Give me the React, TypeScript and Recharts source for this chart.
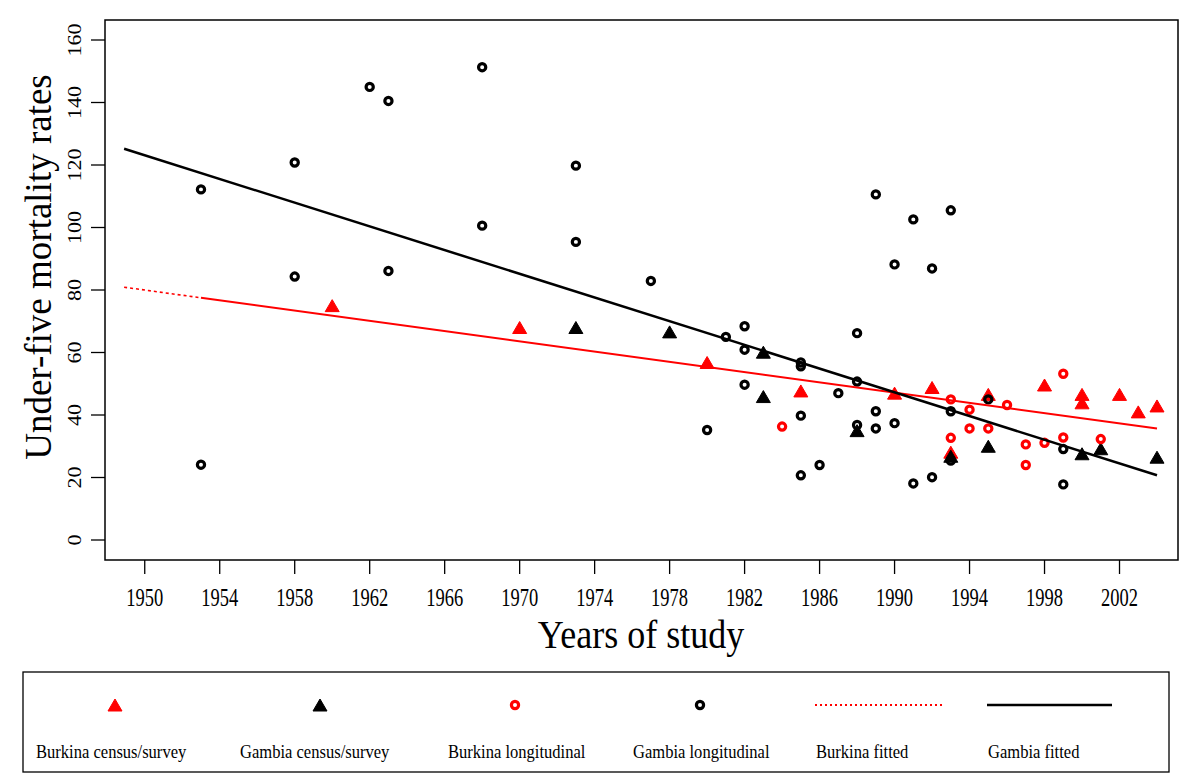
import React from "react";
import { ScatterChart, Scatter, XAxis, YAxis, ReferenceArea } from "recharts";

// [year, under-five mortality rate]
const BURKINA_CENSUS: [number, number][] = [
  [1960, 75], [1970, 68], [1980, 56.8], [1985, 47.7], [1990, 47.0], [1992, 48.8],
  [1993, 28.1], [1995, 46.6], [1998, 49.6], [2000, 46.6], [2000, 43.9], [2002, 46.6],
  [2003, 41.0], [2004, 42.9],
];

const GAMBIA_CENSUS: [number, number][] = [
  [1973, 68], [1978, 66.6], [1983, 60.1], [1983, 45.9], [1988, 35.0], [1993, 26.8],
  [1995, 30.0], [2000, 27.6], [2001, 29.2], [2004, 26.5],
];

const BURKINA_LONG: [number, number][] = [
  [1984, 36.3], [1993, 45.0], [1993, 32.7], [1994, 41.7], [1994, 35.7], [1995, 35.7],
  [1996, 43.2], [1997, 30.6], [1997, 24.0], [1998, 31.1], [1999, 53.2], [1999, 32.8],
  [2001, 32.3],
];

const GAMBIA_LONG: [number, number][] = [
  [1953, 112.2], [1953, 24.1], [1958, 120.8], [1958, 84.3], [1962, 145.0], [1963, 140.5],
  [1963, 86.1], [1968, 151.3], [1968, 100.6], [1973, 119.8], [1973, 95.4], [1977, 82.9],
  [1980, 35.2], [1981, 65.0], [1982, 68.4], [1982, 60.9], [1982, 49.7], [1985, 56.8],
  [1985, 55.6], [1985, 39.8], [1985, 20.7], [1986, 24.0], [1987, 47.0], [1988, 66.2],
  [1988, 50.7], [1988, 36.8], [1989, 110.6], [1989, 41.2], [1989, 35.7], [1990, 88.2],
  [1990, 37.4], [1991, 102.6], [1991, 18.1], [1992, 86.9], [1992, 20.1], [1993, 105.5],
  [1993, 41.2], [1993, 25.4], [1995, 45.0], [1999, 29.1], [1999, 17.8],
];

// fitted lines (end points)
const BURKINA_FIT_EXTRA: [number, number][] = [[1948.9, 80.9], [1953, 77.5]];
const BURKINA_FIT: [number, number][] = [[1953, 77.5], [2004, 35.7]];
const GAMBIA_FIT: [number, number][] = [[1948.9, 125.2], [2004, 20.7]];

const YEAR_TICKS = [1950, 1954, 1958, 1962, 1966, 1970, 1974, 1978, 1982, 1986, 1990, 1994, 1998, 2002];
const RATE_TICKS = [0, 20, 40, 60, 80, 100, 120, 140, 160];

const X_DOMAIN: [number, number] = [1947.88, 2005.12];
const Y_DOMAIN: [number, number] = [-6.4, 166.4];

const toRows = (pts: [number, number][]) => pts.map(([year, rate]) => ({ year, rate }));

const RED = "#ff0000";
const FONT = "'Liberation Serif', 'DejaVu Serif', serif";

const Triangle = ({ cx, cy, color }: any) => {
  const w = 7, h = 12;
  return (
    <polygon
      points={`${cx},${cy - h / 2} ${cx + w},${cy + h / 2} ${cx - w},${cy + h / 2}`}
      fill={color}
      stroke={color}
      strokeWidth={1}
      strokeLinejoin="round"
    />
  );
};

const Ring = ({ cx, cy, color }: any) => (
  <circle cx={cx} cy={cy} r={3.6} fill="none" stroke={color} strokeWidth={3.2} />
);

const XTick = ({ x, y, payload }: any) => (
  <text
    transform={`translate(${x},${y + 32}) scale(0.74,1)`}
    textAnchor="middle"
    fontFamily={FONT}
    fontSize={25}
    fill="#000"
  >
    {payload.value}
  </text>
);

const YTick = ({ x, y, payload }: any) => (
  <text
    transform={`translate(${x - 10},${y}) rotate(-90) scale(1,0.9)`}
    textAnchor="middle"
    fontFamily={FONT}
    fontSize={22}
    fill="#000"
  >
    {payload.value}
  </text>
);

const noDot = () => <g />;

function Legend() {
  const sy = 705;
  const ty = 758;
  const labels: [number, string][] = [
    [36, "Burkina census/survey"],
    [240, "Gambia census/survey"],
    [448, "Burkina longitudinal"],
    [633, "Gambia longitudinal"],
    [816, "Burkina fitted"],
    [988, "Gambia fitted"],
  ];
  return (
    <svg width={1200} height={781} style={{ position: "absolute", left: 0, top: 0, pointerEvents: "none" }}>
      <text
        transform="translate(641,648) scale(0.9,1)"
        textAnchor="middle"
        fontFamily={FONT}
        fontSize={40}
        fill="#000"
      >
        Years of study
      </text>
      <text
        transform="translate(51,267) rotate(-90)"
        textAnchor="middle"
        fontFamily={FONT}
        fontSize={37}
        fill="#000"
      >
        Under-five mortality rates
      </text>
      <rect x={23} y={672} width={1146} height={100} fill="none" stroke="#000" strokeWidth={1.3} />
      <Triangle cx={115} cy={sy} color={RED} />
      <Triangle cx={320} cy={sy} color="#000" />
      <Ring cx={515} cy={sy} color={RED} />
      <Ring cx={700} cy={sy} color="#000" />
      <line x1={815} y1={sy} x2={942} y2={sy} stroke={RED} strokeWidth={2} strokeDasharray="2 3" />
      <line x1={987} y1={sy} x2={1112} y2={sy} stroke="#000" strokeWidth={2.5} />
      {labels.map(([x, t]) => (
        <text
          key={t}
          transform={`translate(${x},${ty}) scale(0.92,1)`}
          fontFamily={FONT}
          fontSize={18}
          fill="#000"
        >
          {t}
        </text>
      ))}
    </svg>
  );
}

export default function App() {
  return (
    <div style={{ position: "absolute", left: 0, top: 0, width: 1200, height: 781, background: "#fff" }}>
      <ScatterChart width={1200} height={781} margin={{ top: 20, right: 22, bottom: 121, left: 0 }}>
        <XAxis
          dataKey="year"
          type="number"
          domain={X_DOMAIN}
          ticks={YEAR_TICKS}
          interval={0}
          allowDataOverflow
          axisLine={false}
          tickSize={14}
          tickMargin={0}
          tickLine={{ stroke: "#000", strokeWidth: 1.3 }}
          tick={(p: any) => <XTick {...p} />}
          height={100}
        />
        <YAxis
          dataKey="rate"
          type="number"
          domain={Y_DOMAIN}
          ticks={RATE_TICKS}
          interval={0}
          allowDataOverflow
          axisLine={false}
          tickSize={14}
          tickMargin={0}
          tickLine={{ stroke: "#000", strokeWidth: 1.3 }}
          tick={(p: any) => <YTick {...p} />}
          width={105}
        />
        <ReferenceArea
          x1={X_DOMAIN[0]}
          x2={X_DOMAIN[1]}
          y1={Y_DOMAIN[0]}
          y2={Y_DOMAIN[1]}
          fill="none"
          stroke="#000"
          strokeWidth={1.5}
          ifOverflow="visible"
        />
        <Scatter
          data={toRows(BURKINA_CENSUS)}
          shape={(p: any) => <Triangle {...p} color={RED} />}
          isAnimationActive={false}
        />
        <Scatter
          data={toRows(GAMBIA_CENSUS)}
          shape={(p: any) => <Triangle {...p} color="#000" />}
          isAnimationActive={false}
        />
        <Scatter
          data={toRows(BURKINA_LONG)}
          shape={(p: any) => <Ring {...p} color={RED} />}
          isAnimationActive={false}
        />
        <Scatter
          data={toRows(GAMBIA_LONG)}
          shape={(p: any) => <Ring {...p} color="#000" />}
          isAnimationActive={false}
        />
        <Scatter
          data={toRows(BURKINA_FIT_EXTRA)}
          line={{ stroke: RED, strokeWidth: 1.6, strokeDasharray: "3 3" }}
          shape={noDot}
          isAnimationActive={false}
        />
        <Scatter
          data={toRows(BURKINA_FIT)}
          line={{ stroke: RED, strokeWidth: 2 }}
          shape={noDot}
          isAnimationActive={false}
        />
        <Scatter
          data={toRows(GAMBIA_FIT)}
          line={{ stroke: "#000", strokeWidth: 2.5 }}
          shape={noDot}
          isAnimationActive={false}
        />
      </ScatterChart>
      <Legend />
    </div>
  );
}
